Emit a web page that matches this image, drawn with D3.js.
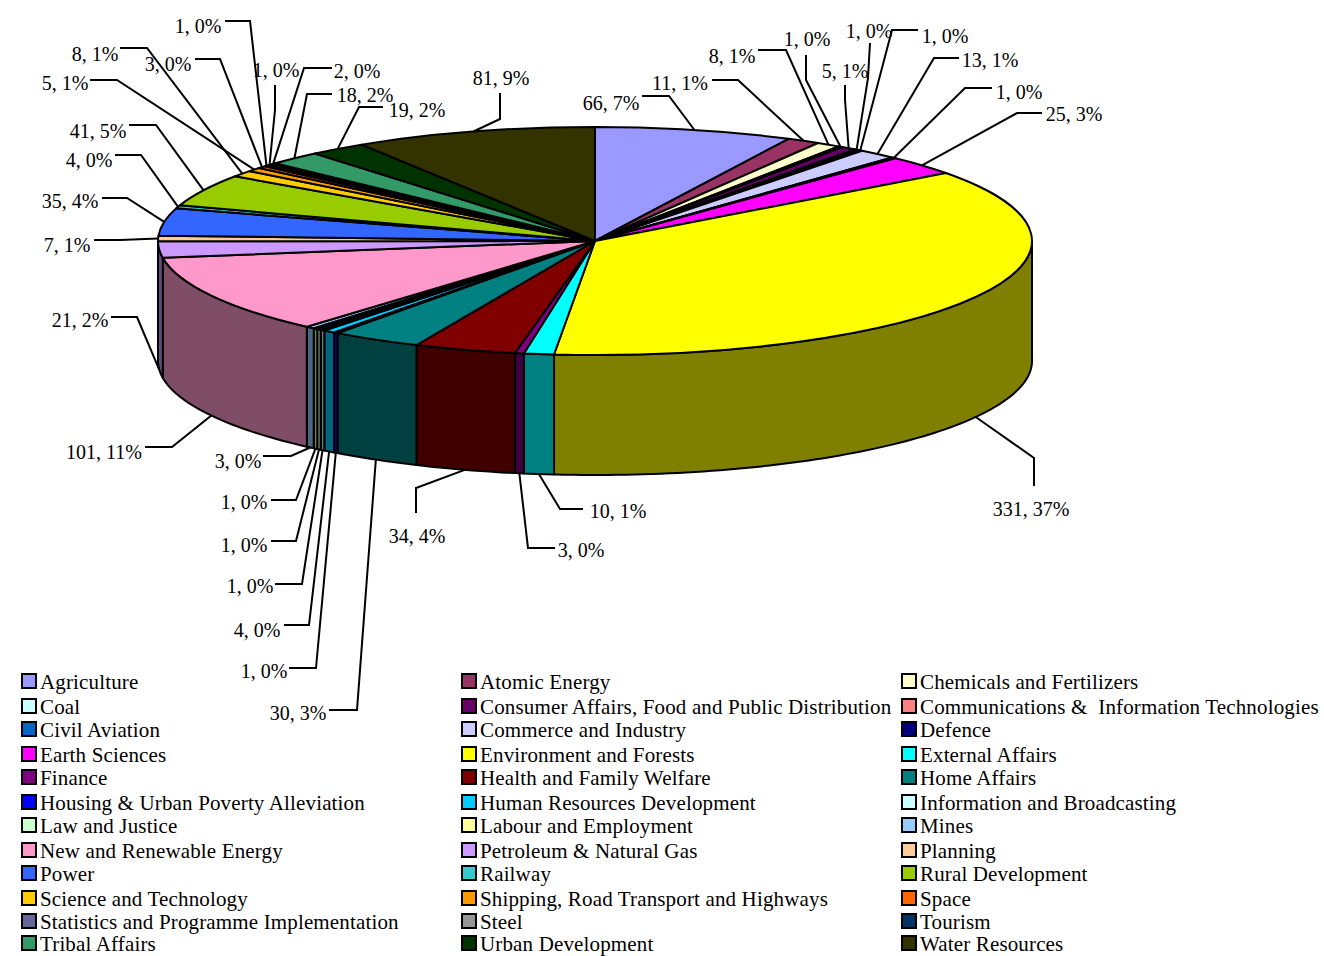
<!DOCTYPE html>
<html>
<head>
<meta charset="utf-8">
<script src="https://cdn.jsdelivr.net/npm/d3@7"></script>
<style>
  body { margin: 0; background: #fff; }
  text { font-family: "Liberation Serif", serif; fill: #000; }
</style>
</head>
<body>
<div id="chart"></div>
<script>
const categories = [
  'Agriculture', 'Atomic Energy', 'Chemicals and Fertilizers', 'Coal',
  'Consumer Affairs, Food and Public Distribution', 'Communications &  Information Technologies',
  'Civil Aviation', 'Commerce and Industry', 'Defence', 'Earth Sciences', 'Environment and Forests',
  'External Affairs', 'Finance', 'Health and Family Welfare', 'Home Affairs',
  'Housing & Urban Poverty Alleviation', 'Human Resources Development', 'Information and Broadcasting',
  'Law and Justice', 'Labour and Employment', 'Mines', 'New and Renewable Energy',
  'Petroleum & Natural Gas', 'Planning', 'Power', 'Railway', 'Rural Development',
  'Science and Technology', 'Shipping, Road Transport and Highways', 'Space',
  'Statistics and Programme Implementation', 'Steel', 'Tourism', 'Tribal Affairs',
  'Urban Development', 'Water Resources'
];
const values = [66, 11, 8, 1, 5, 1, 1, 13, 1, 25, 331, 10, 3, 34, 30, 1, 4, 1, 1, 1, 3, 101, 21, 7, 35, 4, 41, 8, 5, 3, 1, 1, 2, 18, 19, 81];
const colors = [
  '#9999ff', '#993366', '#ffffcc', '#ccffff', '#660066', '#ff8080', '#0066cc', '#ccccff', '#000080',
  '#ff00ff', '#ffff00', '#00ffff', '#800080', '#800000', '#008080', '#0000ff', '#00ccff', '#ccffff',
  '#ccffcc', '#ffff99', '#99ccff', '#ff99cc', '#cc99ff', '#ffcc99', '#3366ff', '#33cccc', '#99cc00',
  '#ffcc00', '#ff9900', '#ff6600', '#666699', '#969696', '#003366', '#339966', '#003300', '#333300'
];

// hand placed data labels, same order as categories: centre x, baseline y
const labelPos = [
  [611, 110], [680, 90], [732, 63], [807, 46], [845, 78], [869, 38], [945, 43], [990, 67], [1019, 99],
  [1074, 121], [1031, 516], [618, 518], [581, 557], [417, 543], [298, 720], [264, 678], [257, 637],
  [250, 593], [244, 552], [244, 509], [238, 468], [104, 459], [80, 327], [67, 252], [70, 208], [89, 167],
  [98, 138], [95, 61], [65, 90], [168, 71], [198, 33], [276, 77], [357, 78], [365, 102], [417, 117], [501, 85]
];
// leader line points from the label up to the bend, the last leg goes to the slice
const leaderPts = [
  [[642, 96], [669, 96]], [[712, 80], [738, 80]], [[758, 50], [786, 50]], [[806, 55], [806, 80]],
  [[845, 85], [845, 100]], [[870, 43], [868, 78]], [[918, 30], [892, 30]], [[959, 58], [934, 58]],
  [[992, 88], [965, 88]], [[1042, 113], [1017, 113]], [[1034, 486], [1034, 458]], [[583, 509], [560, 509]],
  [[555, 548], [528, 548]], [[416, 513], [416, 488]], [[329, 710], [357, 710]], [[289, 668], [316, 668]],
  [[284, 625], [309, 625]], [[275, 584], [302, 584]], [[271, 541], [296, 541]], [[271, 500], [296, 500]],
  [[263, 456], [291, 456]], [[145, 447], [172, 447]], [[111, 317], [137, 317]], [[94, 240], [120, 240]],
  [[102, 198], [127, 198]], [[115, 155], [141, 155]], [[129, 125], [156, 125]], [[120, 48], [147, 48]],
  [[90, 80], [117, 80]], [[195, 59], [220, 59]], [[225, 21], [250, 21]], [[275, 85], [275, 110]],
  [[332, 68], [304, 68]], [[332, 94], [307, 94]], [[383, 107], [359, 107]], [[500, 93], [500, 119]]
];
const legendBaselines = [689, 714, 737, 762, 785, 810, 833, 858, 881, 906, 929, 951];

const width = 1324, height = 956;
const cx = 595, cy = 241, rx = 437, ry = 114, depth = 120;
const legendCols = 3;
// the smallest slices get a little extra room so they stay visible between their outlines
const minDrawnValue = 1.5;

const svg = d3.select('#chart').append('svg')
  .attr('width', width)
  .attr('height', height);

const arcs = d3.pie().sort(null).value(d => Math.max(d, minDrawnValue))(values);
const total = d3.sum(values);
const pctFormat = d3.format('.0%');

// angle is measured clockwise from the top of the pie
const ellipsePt = (a, dy = 0) => [cx + rx * Math.sin(a), cy - ry * Math.cos(a) + dy];
const line = d3.line();

function wallPath(d) {
  const a0 = Math.max(d.startAngle, Math.PI / 2);
  const a1 = Math.min(d.endAngle, Math.PI * 1.5);
  if (a1 <= a0) return null;
  const steps = d3.range(a0, a1, 0.02).concat([a1]);
  const upper = steps.map(a => ellipsePt(a));
  const lower = steps.slice().reverse().map(a => ellipsePt(a, depth));
  return line(upper.concat(lower)) + 'Z';
}

// side walls, half as bright as the top
svg.append('g').selectAll('path')
  .data(arcs.filter(d => wallPath(d)))
  .join('path')
  .attr('d', wallPath)
  .attr('fill', d => {
    const c = d3.rgb(colors[d.index]);
    return d3.rgb(c.r / 2, c.g / 2, c.b / 2);
  })
  .attr('stroke', '#000')
  .attr('stroke-width', 2)
  .attr('stroke-linejoin', 'round');

// top of the pie, a circle squashed into the ellipse
const arcGen = d3.arc().innerRadius(0).outerRadius(rx);
svg.append('g')
  .attr('transform', `translate(${cx},${cy}) scale(1,${ry / rx})`)
  .selectAll('path')
  .data(arcs)
  .join('path')
  .attr('d', arcGen)
  .attr('fill', d => colors[d.index])
  .attr('stroke', '#000')
  .attr('stroke-width', 2)
  .attr('stroke-linejoin', 'round')
  .attr('vector-effect', 'non-scaling-stroke');

// leader lines end on the slice's outer edge at its middle angle
const leaderEnd = d => {
  const mid = (d.startAngle + d.endAngle) / 2;
  return ellipsePt(mid, Math.cos(mid) < 0 ? depth : 0);
};

svg.append('g').selectAll('path')
  .data(arcs)
  .join('path')
  .attr('d', d => line(leaderPts[d.index].concat([leaderEnd(d)])))
  .attr('fill', 'none')
  .attr('stroke', '#000')
  .attr('stroke-width', 2);

svg.append('g').selectAll('text')
  .data(arcs)
  .join('text')
  .attr('x', d => labelPos[d.index][0])
  .attr('y', d => labelPos[d.index][1])
  .attr('text-anchor', 'middle')
  .style('font-size', '20px')
  .text(d => `${values[d.index]}, ${pctFormat(values[d.index] / total)}`);

// legend runs left to right, three to a row
const colScale = d3.scalePoint().domain(d3.range(legendCols)).range([21, 901]);

const legend = svg.append('g').selectAll('g')
  .data(categories)
  .join('g')
  .attr('transform', (d, i) => `translate(${colScale(i % legendCols)},${legendBaselines[Math.floor(i / legendCols)]})`);

legend.append('rect')
  .attr('x', 1)
  .attr('y', -15)
  .attr('width', 14)
  .attr('height', 14)
  .attr('fill', (d, i) => colors[i])
  .attr('stroke', '#000')
  .attr('stroke-width', 2);

legend.append('text')
  .attr('x', 19)
  .attr('y', 0)
  .style('white-space', 'pre')
  .style('font-size', '21px')
  .style('letter-spacing', '0.15px')
  .text(d => d);
</script>
</body>
</html>
